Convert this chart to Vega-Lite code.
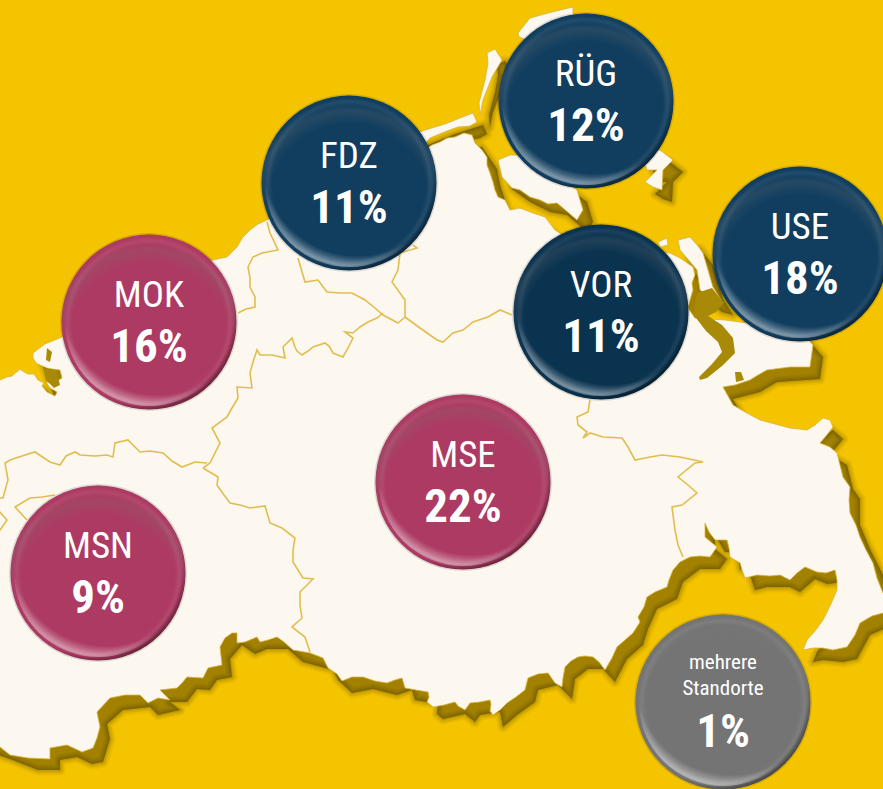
{
"$schema":"https://vega.github.io/schema/vega-lite/v6.json",
"width":883,"height":789,"padding":0,"autosize":{"type":"none"},
"background":"#f5c400",
"config":{"view":{"stroke":null}},
"projection":{"type":"identity","scale":1,"translate":[0,0]},
"datasets":{
"shadow":[
{"type":"Feature","properties":{"n":"main"},"geometry":{"type":"Polygon","coordinates":[[[10,392],[30,381],[48,392],[57,404],[43,365],[72,349],[110,312],[223,272],[260,242],[277,232],[310,212],[410,177],[435,162],[465,149],[482,147],[497,169],[500,185],[508,209],[520,222],[543,225],[565,242],[580,252],[650,262],[680,265],[703,279],[703,302],[698,320],[705,330],[735,332],[810,342],[823,357],[820,379],[777,382],[760,392],[733,399],[743,417],[770,432],[817,442],[833,430],[843,439],[830,455],[847,465],[853,489],[860,499],[860,525],[870,549],[883,575],[893,605],[910,622],[910,627],[893,625],[870,635],[857,659],[843,662],[823,660],[813,662],[817,652],[833,632],[847,602],[845,582],[827,584],[815,579],[800,592],[790,587],[767,587],[755,590],[750,575],[740,569],[737,552],[725,552],[715,535],[715,549],[727,559],[720,569],[700,569],[683,582],[677,599],[657,609],[648,629],[643,645],[627,659],[615,682],[603,669],[588,669],[575,679],[572,699],[558,685],[538,690],[535,702],[517,715],[503,727],[500,712],[480,715],[475,722],[465,714],[443,719],[437,714],[438,704],[415,700],[412,690],[397,695],[373,689],[352,693],[338,680],[333,670],[303,662],[288,649],[267,649],[255,654],[242,645],[230,659],[232,677],[217,680],[210,690],[197,689],[187,702],[170,702],[180,710],[158,715],[150,707],[123,710],[107,724],[110,739],[103,762],[92,764],[77,757],[60,760],[60,770],[38,770],[10,759],[-10,752],[-10,392],[10,392]]]}},
{"type":"Feature","properties":{"n":"darss"},"geometry":{"type":"Polygon","coordinates":[[[410,152],[455,134],[483,125],[487,134],[480,138],[457,143],[440,150],[420,172],[410,152]]]}},
{"type":"Feature","properties":{"n":"zingst"},"geometry":{"type":"Polygon","coordinates":[[[508,172],[520,167],[540,167],[587,202],[593,222],[587,232],[573,220],[567,215],[550,212],[530,202],[512,189],[508,172]]]}},
{"type":"Feature","properties":{"n":"ruegenNorth"},"geometry":{"type":"Polygon","coordinates":[[[529,49],[528,45],[540,30],[583,19],[583,25],[600,72],[550,72],[537,52],[529,49]]]}},
{"type":"Feature","properties":{"n":"hiddensee"},"geometry":{"type":"Polygon","coordinates":[[[497,65],[505,61],[512,72],[502,89],[493,112],[490,127],[489,115],[495,92],[498,75],[497,65]]]}},
{"type":"Feature","properties":{"n":"ruegenTail"},"geometry":{"type":"Polygon","coordinates":[[[650,162],[670,162],[683,172],[673,182],[672,202],[663,199],[655,194],[667,182],[657,182],[650,162]]]}},
{"type":"Feature","properties":{"n":"usedom"},"geometry":{"type":"Polygon","coordinates":[[[688,252],[700,249],[713,265],[723,299],[733,315],[722,312],[710,302],[707,282],[690,262],[688,252]]]}}
],
"land":[
{"type":"Feature","properties":{"n":"main"},"geometry":{"type":"Polygon","coordinates":[[[-20,380],[0,380],[7,377],[12,376],[20,369],[24,372],[28,374],[34,374],[38,380],[44,383],[42,386],[47,392],[55,396],[57,392],[50,388],[46,382],[54,383],[62,378],[60,370],[52,369],[47,368],[40,365],[36,363],[33,358],[33,353],[45,344],[62,337],[100,300],[213,260],[222,258],[227,257],[237,247],[243,237],[250,230],[258,224],[267,220],[300,200],[400,165],[425,150],[432,145],[440,142],[447,138],[455,137],[464,133],[472,135],[475,143],[482,150],[487,157],[487,165],[490,173],[493,182],[495,190],[498,197],[505,200],[510,210],[520,208],[533,213],[545,217],[555,230],[570,240],[640,250],[670,253],[680,258],[693,267],[695,275],[692,283],[693,290],[690,300],[688,308],[695,318],[725,320],[800,330],[813,345],[810,367],[790,367],[767,370],[758,375],[750,380],[735,385],[723,387],[728,396],[733,405],[745,412],[760,420],[775,424],[790,428],[807,430],[815,425],[823,418],[830,420],[833,427],[826,436],[820,443],[830,447],[837,453],[840,465],[843,477],[850,487],[849,500],[850,513],[856,525],[860,537],[866,550],[873,563],[877,578],[883,593],[900,610],[900,615],[883,613],[872,616],[860,623],[855,635],[847,647],[833,650],[823,648],[813,648],[803,650],[807,640],[815,631],[823,620],[830,606],[837,590],[837,580],[835,570],[826,573],[817,572],[805,567],[797,573],[790,580],[780,575],[770,576],[757,575],[745,578],[742,570],[740,563],[730,557],[729,548],[727,540],[715,540],[709,532],[705,523],[705,537],[711,542],[717,547],[710,557],[700,556],[690,557],[680,562],[673,570],[669,580],[667,587],[655,592],[647,597],[644,607],[638,617],[640,622],[633,633],[625,640],[617,647],[612,658],[605,670],[599,662],[593,657],[585,656],[578,657],[571,661],[565,667],[563,678],[562,687],[555,683],[548,673],[538,674],[528,678],[525,690],[516,697],[507,703],[500,710],[493,715],[490,711],[491,704],[490,700],[480,702],[470,703],[465,710],[458,706],[455,702],[444,705],[433,707],[427,702],[429,697],[428,692],[416,690],[405,688],[402,678],[395,680],[387,683],[375,681],[363,677],[352,677],[342,681],[337,674],[328,668],[323,658],[310,653],[293,650],[284,642],[277,637],[268,640],[260,642],[257,637],[245,642],[237,643],[237,633],[232,633],[225,638],[220,647],[222,665],[208,668],[203,678],[187,677],[182,683],[177,688],[160,690],[170,700],[158,698],[148,703],[140,695],[125,695],[110,698],[97,712],[100,727],[97,738],[93,748],[82,752],[67,745],[50,748],[50,759],[28,758],[10,755],[0,747],[-20,740],[-20,380]]]}},
{"type":"Feature","properties":{"n":"darss"},"geometry":{"type":"Polygon","coordinates":[[[400,140],[425,130],[445,124],[460,118],[473,113],[477,122],[470,126],[458,127],[447,131],[430,138],[410,160],[400,140]]]}},
{"type":"Feature","properties":{"n":"zingst"},"geometry":{"type":"Polygon","coordinates":[[[498,160],[510,155],[530,155],[577,190],[583,210],[577,220],[570,214],[563,208],[557,203],[548,204],[540,200],[530,197],[520,190],[512,188],[502,177],[498,160]]]}},
{"type":"Feature","properties":{"n":"ruegenNorth"},"geometry":{"type":"Polygon","coordinates":[[[519,37],[518,33],[530,18],[552,12],[573,7],[573,13],[590,60],[540,60],[527,40],[519,37]]]}},
{"type":"Feature","properties":{"n":"hiddensee"},"geometry":{"type":"Polygon","coordinates":[[[487,53],[495,49],[502,60],[492,77],[483,100],[480,115],[479,103],[485,80],[488,63],[487,53]]]}},
{"type":"Feature","properties":{"n":"ruegenTail"},"geometry":{"type":"Polygon","coordinates":[[[640,150],[660,150],[673,160],[663,170],[662,190],[653,187],[645,182],[657,170],[647,170],[640,150]]]}},
{"type":"Feature","properties":{"n":"usedom"},"geometry":{"type":"Polygon","coordinates":[[[678,240],[690,237],[698,246],[703,253],[708,270],[713,287],[723,303],[712,300],[700,290],[697,270],[680,250],[678,240]]]}},
{"type":"Feature","properties":{"n":"islet"},"geometry":{"type":"Polygon","coordinates":[[[658,242],[667,238],[668,245],[660,247],[658,242]]]}}
],
"water":[
{"type":"Feature","properties":{"n":"lagoon"},"geometry":{"type":"Polygon","coordinates":[[[697,293],[712,288],[724,303],[716,312],[708,316],[722,325],[733,338],[735,353],[722,366],[707,378],[700,380],[699,377],[712,364],[722,352],[718,342],[706,331],[693,314],[697,293]]]}},
{"type":"Feature","properties":{"n":"bay"},"geometry":{"type":"Polygon","coordinates":[[[43,368],[56,370],[60,385],[54,388],[46,380],[43,368]]]}},
{"type":"Feature","properties":{"n":"inlet"},"geometry":{"type":"Polygon","coordinates":[[[47,348],[52,352],[50,362],[46,360],[47,348]]]}},
{"type":"Feature","properties":{"n":"islet2"},"geometry":{"type":"Polygon","coordinates":[[[735,372],[741,372],[744,380],[736,382],[735,372]]]}}
],
"borders":[
{"type":"Feature","properties":{"n":"b1"},"geometry":{"type":"LineString","coordinates":[[267,222],[270,233],[278,250],[262,253],[253,257],[248,267],[250,278],[250,287],[255,297],[255,307],[246,309],[238,313]]}},
{"type":"Feature","properties":{"n":"b2"},"geometry":{"type":"LineString","coordinates":[[383,313],[377,318],[368,322],[360,327],[353,333],[345,332],[353,338],[348,348],[343,357],[333,353],[329,346],[325,343],[313,347],[308,351],[302,355],[297,351],[295,347],[292,338],[283,347],[285,358],[272,355],[260,355],[257,350],[253,362],[250,373],[252,388],[237,387],[238,398],[232,408],[227,417],[212,428],[220,443],[215,453],[210,463],[203,468]]}},
{"type":"Feature","properties":{"n":"b3"},"geometry":{"type":"LineString","coordinates":[[207,463],[195,462],[182,467],[172,461],[163,453],[150,451],[140,452],[133,445],[128,440],[115,443],[113,457],[107,455],[95,456],[80,455],[75,452],[66,456],[60,465],[50,462],[35,452],[22,456],[10,460],[5,463],[8,480],[3,498],[-10,498]]}},
{"type":"Feature","properties":{"n":"b4"},"geometry":{"type":"LineString","coordinates":[[203,468],[218,477],[217,485],[224,495],[230,503],[240,505],[250,508],[265,506],[270,523],[282,528],[295,538],[293,550],[293,562],[303,578],[313,579],[300,592],[300,605],[302,618],[292,627],[305,637],[310,652]]}},
{"type":"Feature","properties":{"n":"b5"},"geometry":{"type":"LineString","coordinates":[[55,495],[42,497],[30,498],[15,507],[27,520]]}},
{"type":"Feature","properties":{"n":"b5b"},"geometry":{"type":"LineString","coordinates":[[-2,510],[7,520],[-2,533]]}},
{"type":"Feature","properties":{"n":"b6"},"geometry":{"type":"LineString","coordinates":[[298,258],[305,282],[318,280],[327,292],[340,293],[352,293],[365,300],[375,308],[383,315],[398,323],[405,317],[405,300],[392,282],[398,270],[400,253],[417,248],[413,245]]}},
{"type":"Feature","properties":{"n":"b7"},"geometry":{"type":"LineString","coordinates":[[405,317],[420,328],[437,340],[443,342],[453,333],[463,330],[473,322],[488,317],[500,310],[512,315]]}},
{"type":"Feature","properties":{"n":"b8"},"geometry":{"type":"LineString","coordinates":[[590,400],[588,412],[577,417],[578,425],[587,432],[583,438],[590,433],[603,437],[622,438],[628,447],[635,460],[650,457],[662,455],[680,457],[703,462],[695,463],[678,477],[688,485],[697,493],[682,505],[672,507],[675,530],[678,545],[683,557]]}}
],
"bubbles":[
{"code":"RÜG","share":0.12,"group":"blue","mx":586,"my":101},
{"code":"FDZ","share":0.11,"group":"blue","mx":349,"my":183},
{"code":"USE","share":0.18,"group":"blue","mx":800,"my":254},
{"code":"VOR","share":0.11,"group":"navy","mx":601,"my":312},
{"code":"MOK","share":0.16,"group":"pink","mx":149,"my":322},
{"code":"MSE","share":0.22,"group":"pink","mx":463,"my":482},
{"code":"MSN","share":0.09,"group":"pink","mx":98,"my":573},
{"code":"","line1":"mehrere","line2":"Standorte","share":0.01,"group":"gray","mx":723,"my":702}
]
},
"layer":[
{"data":{"name":"shadow"},"mark":{"type":"geoshape","fill":"#000000","fillOpacity":0.05,"stroke":"#000000","strokeOpacity":0.05,"strokeWidth":11,"strokeJoin":"round"}},
{"data":{"name":"shadow"},"mark":{"type":"geoshape","fill":"#000000","fillOpacity":0.07,"stroke":"#000000","strokeOpacity":0.07,"strokeWidth":7,"strokeJoin":"round"}},
{"data":{"name":"shadow"},"mark":{"type":"geoshape","fill":"#000000","fillOpacity":0.1,"stroke":"#000000","strokeOpacity":0.1,"strokeWidth":3,"strokeJoin":"round"}},
{"data":{"name":"shadow"},"mark":{"type":"geoshape","fill":"#000000","fillOpacity":0.16,"stroke":null}},
{"data":{"name":"land"},"mark":{"type":"geoshape","fill":"#fcf8f0","stroke":"#d9b23a","strokeWidth":0.8}},
{"data":{"name":"water"},"mark":{"type":"geoshape","fill":"#a88a08","stroke":null}},
{"data":{"name":"borders"},"mark":{"type":"geoshape","filled":false,"fill":null,"stroke":"#e2bd4e","strokeWidth":1.6}},
{"data":{"name":"bubbles"},"mark":{"type":"point","shape":"circle","filled":true,"size":31684,"fill":"#000000","opacity":0.12,"xOffset":4,"yOffset":4,"stroke":null},"encoding":{"longitude":{"field":"mx","type":"quantitative"},"latitude":{"field":"my","type":"quantitative"}}},
{"data":{"name":"bubbles"},"mark":{"type":"point","shape":"circle","filled":true,"size":30276,"fill":"#000000","opacity":0.22,"xOffset":3,"yOffset":3,"stroke":null},"encoding":{"longitude":{"field":"mx","type":"quantitative"},"latitude":{"field":"my","type":"quantitative"}}},
{"data":{"name":"bubbles"},"mark":{"type":"point","shape":"circle","filled":true,"size":30625,"opacity":1,"stroke":null},"encoding":{"longitude":{"field":"mx","type":"quantitative"},"latitude":{"field":"my","type":"quantitative"},"fill":{"field":"group","type":"nominal","legend":null,"scale":{"domain":["pink","blue","navy","gray"],"range":["#ad3a62","#113e5f","#0a3350","#747474"]}}}},
{"data":{"name":"bubbles"},"mark":{"type":"point","shape":"circle","filled":true,"size":30625,"opacity":1,"stroke":null,"fill":{"gradient":"radial","x1":0.5,"y1":0.62,"r1":0,"x2":0.5,"y2":0.62,"r2":0.62,"stops":[{"offset":0,"color":"rgba(120,120,120,0)"},{"offset":0.74,"color":"rgba(120,120,120,0)"},{"offset":0.86,"color":"rgba(120,120,120,0.2)"},{"offset":0.92,"color":"rgba(120,120,120,0)"},{"offset":1,"color":"rgba(120,120,120,0)"}]}},"encoding":{"longitude":{"field":"mx","type":"quantitative"},"latitude":{"field":"my","type":"quantitative"}}},
{"data":{"name":"bubbles"},"mark":{"type":"point","shape":"circle","filled":true,"size":30625,"opacity":1,"stroke":null,"fill":{"gradient":"radial","x1":0.5,"y1":0.5,"r1":0,"x2":0.5,"y2":0.5,"r2":0.5,"stops":[{"offset":0,"color":"rgba(255,255,255,0)"},{"offset":0.88,"color":"rgba(255,255,255,0)"},{"offset":0.93,"color":"rgba(255,255,255,0.08)"},{"offset":0.97,"color":"rgba(255,255,255,0)"},{"offset":1,"color":"rgba(255,255,255,0)"}]}},"encoding":{"longitude":{"field":"mx","type":"quantitative"},"latitude":{"field":"my","type":"quantitative"}}},
{"data":{"name":"bubbles"},"mark":{"type":"point","shape":"circle","filled":true,"size":28224,"opacity":1,"stroke":null,"yOffset":-2,"fill":{"gradient":"radial","x1":0.55,"y1":0.37,"r1":0,"x2":0.55,"y2":0.37,"r2":0.64,"stops":[{"offset":0,"color":"rgba(255,255,255,0)"},{"offset":0.88,"color":"rgba(255,255,255,0)"},{"offset":0.98,"color":"rgba(255,255,255,0.42)"},{"offset":1,"color":"rgba(255,255,255,0.3)"}]}},"encoding":{"longitude":{"field":"mx","type":"quantitative"},"latitude":{"field":"my","type":"quantitative"}}},
{"data":{"name":"bubbles"},"mark":{"type":"point","shape":"circle","filled":true,"size":30625,"opacity":1,"stroke":null,"fill":{"gradient":"radial","x1":0.47,"y1":0.46,"r1":0,"x2":0.47,"y2":0.46,"r2":0.57,"stops":[{"offset":0,"color":"rgba(0,0,0,0)"},{"offset":0.9,"color":"rgba(0,0,0,0)"},{"offset":0.96,"color":"rgba(0,0,0,0.4)"},{"offset":1,"color":"rgba(0,0,0,0.85)"}]}},"encoding":{"longitude":{"field":"mx","type":"quantitative"},"latitude":{"field":"my","type":"quantitative"}}},
{"data":{"name":"bubbles"},"transform":[{"filter":"datum.code != ''"}],"mark":{"type":"text","font":"Roboto Condensed, Roboto, sans-serif","fontSize":37,"fill":"#ffffff","align":"center","baseline":"alphabetic","dy":-15},"encoding":{"longitude":{"field":"mx","type":"quantitative"},"latitude":{"field":"my","type":"quantitative"},"text":{"field":"code","type":"nominal"}}},
{"data":{"name":"bubbles"},"transform":[{"filter":"datum.code != ''"}],"mark":{"type":"text","font":"Roboto Condensed, Roboto, sans-serif","fontWeight":"bold","fontSize":47,"fill":"#ffffff","align":"center","baseline":"alphabetic","dy":40},"encoding":{"longitude":{"field":"mx","type":"quantitative"},"latitude":{"field":"my","type":"quantitative"},"text":{"field":"share","type":"quantitative","format":".0%"}}},
{"data":{"name":"bubbles"},"transform":[{"filter":"datum.code == ''"}],"mark":{"type":"text","font":"Roboto Condensed, Roboto, sans-serif","fontSize":21,"fill":"#ffffff","align":"center","baseline":"alphabetic","dy":-33},"encoding":{"longitude":{"field":"mx","type":"quantitative"},"latitude":{"field":"my","type":"quantitative"},"text":{"field":"line1","type":"nominal"}}},
{"data":{"name":"bubbles"},"transform":[{"filter":"datum.code == ''"}],"mark":{"type":"text","font":"Roboto Condensed, Roboto, sans-serif","fontSize":21,"fill":"#ffffff","align":"center","baseline":"alphabetic","dy":-7},"encoding":{"longitude":{"field":"mx","type":"quantitative"},"latitude":{"field":"my","type":"quantitative"},"text":{"field":"line2","type":"nominal"}}},
{"data":{"name":"bubbles"},"transform":[{"filter":"datum.code == ''"}],"mark":{"type":"text","font":"Roboto Condensed, Roboto, sans-serif","fontWeight":"bold","fontSize":47,"fill":"#ffffff","align":"center","baseline":"alphabetic","dy":45},"encoding":{"longitude":{"field":"mx","type":"quantitative"},"latitude":{"field":"my","type":"quantitative"},"text":{"field":"share","type":"quantitative","format":".0%"}}}
]
}
